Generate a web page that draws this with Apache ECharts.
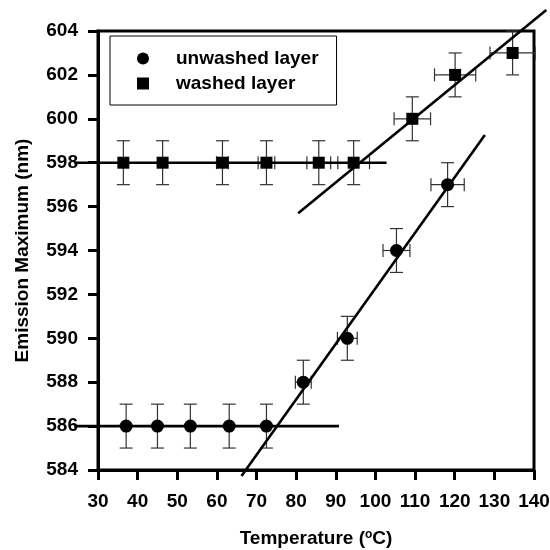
<!DOCTYPE html>
<html>
<head>
<meta charset="utf-8">
<script src="https://cdn.jsdelivr.net/npm/echarts@6/dist/echarts.min.js"></script>
<style>
  html, body { margin: 0; padding: 0; background: #fff; }
  #chart { width: 550px; height: 550px; }
</style>
</head>
<body>
<div id="chart"></div>
<script>
// unwashed layer (circles)
var unwashedX = [37.1, 45.0, 53.3, 63.1, 72.5, 81.8, 92.9, 105.3, 118.2];
var unwashedY = [586, 586, 586, 586, 586, 588, 590, 594, 597];
var unwashedXErr = [0, 0, 0, 0, 0, 2.0, 2.5, 3.4, 4.2];
var unwashedYErr = [1, 1, 1, 1, 1, 1, 1, 1, 1];

// washed layer (squares)
var washedX = [36.4, 46.3, 61.4, 72.5, 85.7, 94.5, 109.3, 120.1, 134.6];
var washedY = [598, 598, 598, 598, 598, 598, 600, 602, 603];
var washedXErr = [0, 0, 1.5, 2.1, 3.0, 4.0, 4.6, 5.2, 5.7];
var washedYErr = [1, 1, 1, 1, 1, 1, 1, 1, 1];

// fitted lines, [x1, y1, x2, y2]
var fitSegments = [
  [24.0, 586, 90.8, 586],       // unwashed, flat part
  [66.2, 583.73, 127.6, 599.26], // unwashed, rising part
  [24.0, 598, 102.8, 598],      // washed, flat part
  [80.5, 595.7, 143.1, 604.96]  // washed, rising part
];

var xTicks = { min: 30, max: 140, interval: 10 };
var yTicks = { min: 584, max: 604, interval: 2 };

var font = 'Liberation Sans, Arial, sans-serif';

function zip (xs, ys) {
  return xs.map(function (x, i) { return [x, ys[i]]; });
}
function zipErr (xs, ys, xe, ye) {
  return xs.map(function (x, i) { return [x, ys[i], xe[i], ye[i]]; });
}

function errorBars (params, api) {
  var x = api.value(0), y = api.value(1), xe = api.value(2), ye = api.value(3);
  var style = { stroke: '#333', lineWidth: 1.2 };
  var children = [];
  var cap = 6.5;
  var top = api.coord([x, y + ye]);
  var bot = api.coord([x, y - ye]);
  children.push({ type: 'line', shape: { x1: top[0], y1: top[1], x2: bot[0], y2: bot[1] }, style: style });
  children.push({ type: 'line', shape: { x1: top[0] - cap, y1: top[1], x2: top[0] + cap, y2: top[1] }, style: style });
  children.push({ type: 'line', shape: { x1: bot[0] - cap, y1: bot[1], x2: bot[0] + cap, y2: bot[1] }, style: style });
  if (xe > 0) {
    var l = api.coord([x - xe, y]);
    var r = api.coord([x + xe, y]);
    children.push({ type: 'line', shape: { x1: l[0], y1: l[1], x2: r[0], y2: r[1] }, style: style });
    children.push({ type: 'line', shape: { x1: l[0], y1: l[1] - cap, x2: l[0], y2: l[1] + cap }, style: style });
    children.push({ type: 'line', shape: { x1: r[0], y1: r[1] - cap, x2: r[0], y2: r[1] + cap }, style: style });
  }
  return { type: 'group', children: children };
}

function fitLine (params, api) {
  var a = api.coord([api.value(0), api.value(1)]);
  var b = api.coord([api.value(2), api.value(3)]);
  return {
    type: 'line',
    shape: { x1: a[0], y1: a[1], x2: b[0], y2: b[1] },
    style: { stroke: '#000', lineWidth: 2.6 }
  };
}

var chart = echarts.init(document.getElementById('chart'));
chart.setOption({
  animation: false,
  textStyle: { fontFamily: font },
  grid: {
    left: 98,
    right: 16,
    top: 31,
    bottom: 80,
    outerBoundsMode: 'none',
    show: true,
    borderColor: '#000',
    borderWidth: 3
  },
  legend: {
    orient: 'vertical',
    left: 110,
    top: 36,
    borderColor: '#000',
    borderWidth: 1,
    padding: [13, 18, 12, 27],
    itemWidth: 12,
    itemHeight: 12,
    itemGap: 6,
    data: [
      { name: 'unwashed layer', icon: 'circle' },
      { name: 'washed layer', icon: 'rect' }
    ],
    textStyle: {
      fontFamily: font,
      fontSize: 19,
      fontWeight: 'bold',
      color: '#000',
      padding: [0, 0, 0, 22]
    }
  },
  xAxis: {
    type: 'value',
    min: xTicks.min,
    max: xTicks.max,
    interval: xTicks.interval,
    name: 'Temperature ({sup|o}C)',
    nameLocation: 'middle',
    nameGap: 59,
    nameTextStyle: {
      fontFamily: font,
      fontSize: 19,
      fontWeight: 'bold',
      color: '#000',
      rich: {
        sup: {
          fontSize: 12,
          fontWeight: 'bold',
          fontFamily: font,
          color: '#000',
          lineHeight: 12,
          verticalAlign: 'top',
          padding: [0, 0, 10, 0]
        }
      }
    },
    axisLine: { lineStyle: { color: '#000', width: 3 } },
    axisTick: { length: 10, lineStyle: { color: '#000', width: 3 } },
    axisLabel: { margin: 22, fontSize: 19, fontWeight: 'bold', color: '#000', fontFamily: font },
    splitLine: { show: false }
  },
  yAxis: {
    type: 'value',
    min: yTicks.min,
    max: yTicks.max,
    interval: yTicks.interval,
    name: 'Emission Maximum (nm)',
    nameLocation: 'middle',
    nameGap: 66,
    nameTextStyle: { fontFamily: font, fontSize: 19, fontWeight: 'bold', color: '#000' },
    axisLine: { lineStyle: { color: '#000', width: 3 } },
    axisTick: { length: 10, lineStyle: { color: '#000', width: 3 } },
    axisLabel: { margin: 20, fontSize: 19, fontWeight: 'bold', color: '#000', fontFamily: font },
    splitLine: { show: false }
  },
  series: [
    {
      type: 'custom',
      renderItem: errorBars,
      data: zipErr(unwashedX, unwashedY, unwashedXErr, unwashedYErr),
      silent: true,
      z: 1
    },
    {
      type: 'custom',
      renderItem: errorBars,
      data: zipErr(washedX, washedY, washedXErr, washedYErr),
      silent: true,
      z: 1
    },
    {
      type: 'custom',
      renderItem: fitLine,
      data: fitSegments,
      clip: false,
      silent: true,
      z: 3
    },
    {
      name: 'unwashed layer',
      type: 'scatter',
      symbol: 'circle',
      symbolSize: 13,
      itemStyle: { color: '#000', opacity: 1 },
      data: zip(unwashedX, unwashedY),
      z: 4
    },
    {
      name: 'washed layer',
      type: 'scatter',
      symbol: 'rect',
      symbolSize: 12,
      itemStyle: { color: '#000', opacity: 1 },
      data: zip(washedX, washedY),
      z: 4
    }
  ]
});
</script>
</body>
</html>
